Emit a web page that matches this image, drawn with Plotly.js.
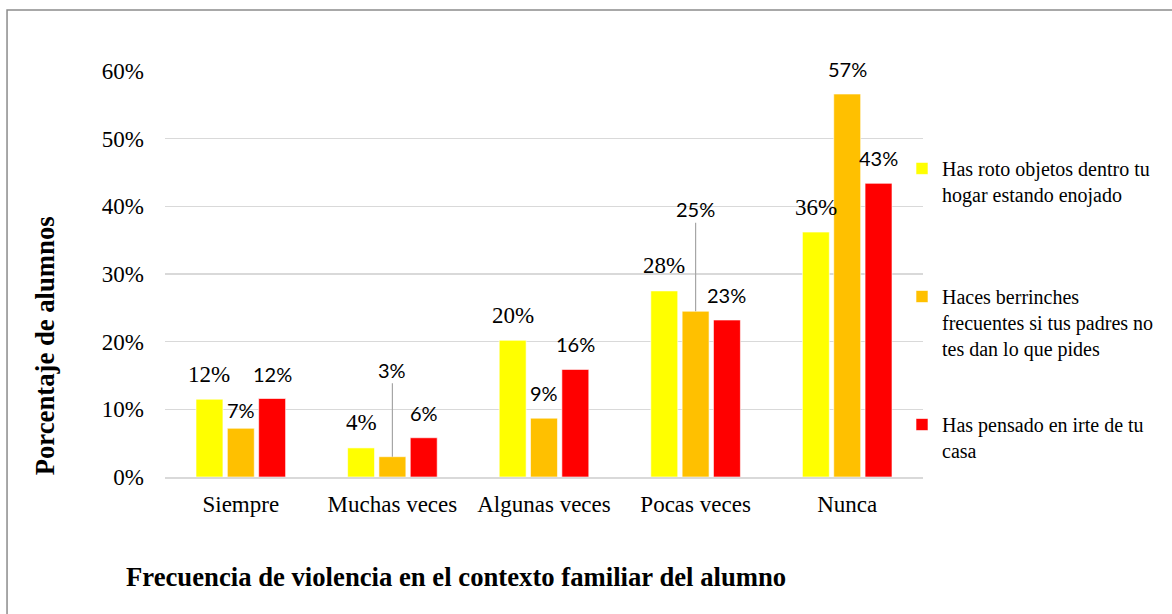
<!DOCTYPE html>
<html>
<head>
<meta charset="utf-8">
<script src="https://cdn.plot.ly/plotly-3.0.1.min.js"></script>
<style>html,body{margin:0;padding:0;background:#fff;}#chart{width:1172px;height:614px;}</style>
</head>
<body>
<div id="chart"></div>
<script>
// ---- data ----
const categories = ['Siempre', 'Muchas veces', 'Algunas veces', 'Pocas veces', 'Nunca'];
const seriesNames = [
  'Has roto objetos dentro tu<br>hogar estando enojado',
  'Haces berrinches<br>frecuentes si tus padres no<br>tes dan lo que pides',
  'Has pensado en irte de tu<br>casa'
];
const rotoObjetos = [11.5, 4.3, 20.2, 27.5, 36.2];
const berrinches = [7.2, 3.0, 8.7, 24.5, 56.6];
const irteDeCasa = [11.6, 5.8, 15.9, 23.2, 43.4];
const yTickVals = [0, 10, 20, 30, 40, 50, 60];
const yTickLabels = ['0%', '10%', '20%', '30%', '40%', '50%', '60%'];
const xTitle = 'Frecuencia de violencia en el contexto familiar del alumno';
const yTitle = 'Porcentaje de alumnos';

// ---- style ----
const colors = ['#FFFF00', '#FFC000', '#FF0000'];
const serif = 'Liberation Serif';
const sans = 'Lato';
const labelFonts = [
  {family: serif, size: 23, color: '#000'},
  {family: sans, size: 20, color: '#000'},
  {family: sans, size: 20, color: '#000'}
];
const BARGAP = 0.38;
const slot = (1 - BARGAP) / 3;
// leader-line labels: key "series-category" -> arrow offset in px
const leaderOffsets = {'1-1': -87, '1-3': -102};
const labelShift = {'1-0': 18};

const allSeries = [rotoObjetos, berrinches, irteDeCasa];
const legendIds = ['legend', 'legend2', 'legend3'];

const traces = allSeries.map((vals, i) => ({
  type: 'bar',
  x: categories,
  y: vals,
  name: seriesNames[i],
  legend: legendIds[i],
  marker: {color: colors[i], line: {color: 'rgba(255,255,255,0.6)', width: 1}},
  hoverinfo: 'skip'
}));

const annotations = [];
allSeries.forEach((vals, i) => {
  vals.forEach((v, j) => {
    const key = i + '-' + j;
    const xpos = j + (i - 1) * slot;
    const txt = Math.round(v) + '%';
    if (leaderOffsets[key] !== undefined) {
      annotations.push({
        xref: 'x', yref: 'y', x: xpos, y: v, text: txt,
        showarrow: true, arrowhead: 0, arrowwidth: 1.2, arrowcolor: '#a6a6a6',
        ax: 0, ay: leaderOffsets[key], standoff: 0,
        font: labelFonts[i]
      });
    } else {
      annotations.push({
        xref: 'x', yref: 'y', x: xpos, y: v, text: txt,
        showarrow: false, yanchor: 'middle',
        yshift: labelShift[key] !== undefined ? labelShift[key] : 25,
        font: labelFonts[i]
      });
    }
  });
});

annotations.push({
  xref: 'paper', yref: 'paper', x: 0.384, y: -0.2463, xanchor: 'center', yanchor: 'middle',
  text: '<b>' + xTitle + '</b>', showarrow: false,
  font: {family: serif, size: 26.7, color: '#000'}
});
annotations.push({
  xref: 'paper', yref: 'paper', x: -0.1583, y: 0.322, xanchor: 'center', yanchor: 'middle',
  text: '<b>' + yTitle + '</b>', showarrow: false, textangle: -90,
  font: {family: serif, size: 26.7, color: '#000'}
});

const legendBase = {
  x: 0.9723, xanchor: 'left', yanchor: 'top', valign: 'top',
  bgcolor: 'rgba(0,0,0,0)', borderwidth: 0, itemwidth: 30,
  font: {family: serif, size: 20, color: '#000'}
};

const layout = {
  width: 1172, height: 614,
  margin: {l: 165, r: 249, t: 71, b: 137},
  paper_bgcolor: '#fff', plot_bgcolor: '#fff',
  font: {family: serif, color: '#000'},
  barmode: 'group', bargap: BARGAP, bargroupgap: 0.14,
  showlegend: true,
  legend: Object.assign({}, legendBase, {y: 0.808}),
  legend2: Object.assign({}, legendBase, {y: 0.4926}),
  legend3: Object.assign({}, legendBase, {y: 0.1773}),
  xaxis: {
    type: 'category', showgrid: false, zeroline: false,
    showline: true, linecolor: '#d9d9d9', linewidth: 1.5,
    ticks: '', ticklabelstandoff: 6,
    tickfont: {family: serif, size: 23, color: '#000'}
  },
  yaxis: {
    range: [0, 60], tickmode: 'array', tickvals: yTickVals, ticktext: yTickLabels,
    showgrid: true, gridcolor: '#d9d9d9', gridwidth: 1.5,
    zeroline: false, showline: false, ticks: '', ticklabelstandoff: 20,
    tickfont: {family: serif, size: 23, color: '#000'}
  },
  annotations: annotations,
  shapes: [{
    type: 'rect', xref: 'paper', yref: 'paper',
    x0: -0.2084, x1: 1.5, y0: -0.6, y1: 1.1502,
    line: {color: '#8c8c8c', width: 1.5}, fillcolor: 'rgba(0,0,0,0)', layer: 'below'
  }]
};

Plotly.newPlot('chart', traces, layout, {displayModeBar: false, staticPlot: true});
</script>
</body>
</html>
